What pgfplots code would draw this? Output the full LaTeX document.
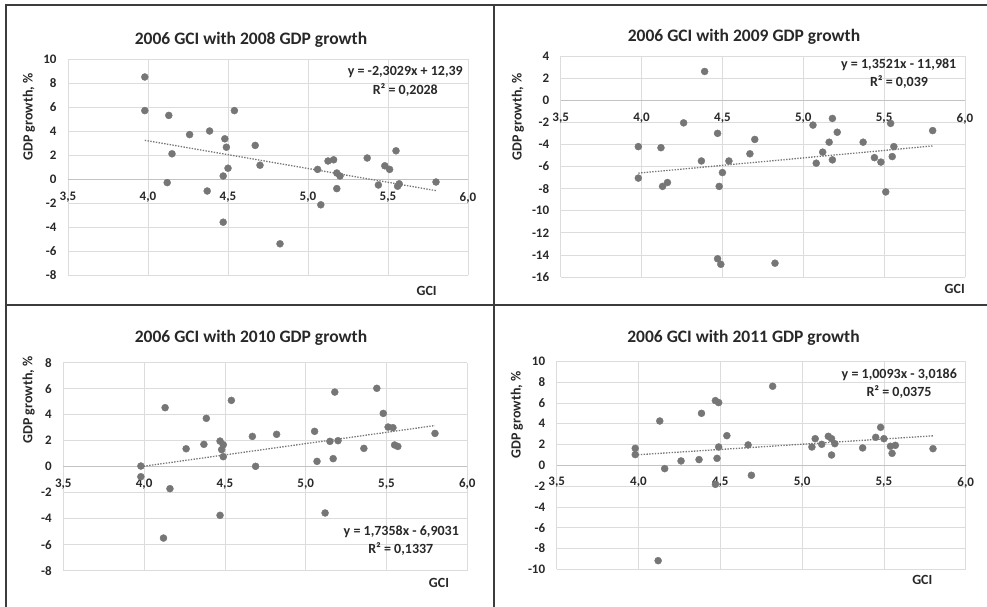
\documentclass[border=0pt]{standalone}
\usepackage{pgfplots}
\pgfplotsset{compat=1.18}
\usepackage{fontspec}
\setmainfont{Carlito}

\definecolor{mk}{RGB}{118,118,118}
\definecolor{gridc}{RGB}{220,220,220}
\definecolor{zeroc}{RGB}{195,195,195}
\definecolor{framec}{RGB}{60,60,60}
\definecolor{txt}{RGB}{40,40,40}

\pgfplotsset{
 gcistyle/.style={
  scale only axis,
  xmin=3.5, xmax=6.0,
  xtick={3.5,4,4.5,5,5.5,6},
  xticklabels={3{,}5,4{,}0,4{,}5,5{,}0,5{,}5,6{,}0},
  axis line style={draw=none},
  major tick length=0pt,
  grid=major,
  grid style={gridc, line width=0.8pt},
  tick label style={font=\fontsize{13}{15}\selectfont\bfseries, text=txt},
  yticklabel style={xshift=-8pt},
  extra y ticks={0},
  extra y tick labels={},
  extra y tick style={grid style={zeroc, line width=0.9pt}},
  clip=false,
 },
 pts/.style={only marks, mark=*, mark size=3.5pt, mark options={draw=mk, fill=mk}},
 trend/.style={mk, line width=1.3pt, dash pattern=on 1.4pt off 1.4pt},
}

\newcommand{\ttl}{\fontsize{17.5}{20}\selectfont\bfseries}
\newcommand{\lbl}{\fontsize{14}{16}\selectfont\bfseries}
\newcommand{\eqf}{\fontsize{14}{16}\selectfont\bfseries}

\begin{document}
\begin{tikzpicture}[x=1pt,y=1pt]
\path[use as bounding box] (0pt,0pt) rectangle (987pt,-607pt);

% ---------- Panel 1 : 2008 ----------
\begin{axis}[gcistyle, at={(68pt,-275pt)}, anchor=south west, width=400pt, height=216pt,
  ymin=-8, ymax=10, ytick={-8,-6,-4,-2,0,2,4,6,8,10},
  yticklabels={-8,-6,-4,-2,0,2,4,6,8,10},
  xticklabel style={yshift=86.3pt}]
\addplot[pts] table {
3.98 8.5
3.98 5.7
4.13 5.3
4.15 2.1
4.12 -0.3
4.26 3.7
4.385 4.0
4.37 -1.0
4.48 3.35
4.49 2.65
4.50 0.9
4.47 0.25
4.47 -3.6
4.54 5.7
4.67 2.8
4.70 1.15
4.825 -5.4
5.06 0.8
5.08 -2.15
5.125 1.5
5.16 1.6
5.18 0.5
5.20 0.25
5.18 -0.8
5.37 1.75
5.44 -0.5
5.48 1.1
5.51 0.8
5.55 2.35
5.56 -0.6
5.57 -0.4
5.80 -0.25
};
\addplot[trend] coordinates {(3.98,3.225) (5.80,-0.967)};
\end{axis}

% ---------- Panel 2 : 2009 ----------
\begin{axis}[gcistyle, at={(560.7pt,-277pt)}, anchor=south west, width=404.3pt, height=221pt,
  ymin=-16, ymax=4, ytick={-16,-14,-12,-10,-8,-6,-4,-2,0,2,4},
  yticklabels={-16,-14,-12,-10,-8,-6,-4,-2,0,2,4},
  xticklabel style={yshift=167.3pt}]
\addplot[pts] table {
4.39 2.6
4.26 -2.05
3.98 -4.2
4.12 -4.3
3.98 -7.05
4.13 -7.8
4.16 -7.45
4.37 -5.5
4.47 -3.0
4.50 -6.55
4.48 -7.8
4.54 -5.5
4.47 -14.35
4.49 -14.85
4.67 -4.85
4.70 -3.55
4.825 -14.75
5.06 -2.25
5.08 -5.7
5.12 -4.7
5.16 -3.8
5.18 -1.65
5.18 -5.4
5.21 -2.9
5.37 -3.8
5.44 -5.2
5.48 -5.6
5.51 -8.3
5.54 -2.1
5.55 -5.1
5.56 -4.2
5.80 -2.75
};
\addplot[trend] coordinates {(3.98,-6.600) (5.80,-4.139)};
\end{axis}

% ---------- Panel 3 : 2010 ----------
\begin{axis}[gcistyle, at={(63.3pt,-570.7pt)}, anchor=south west, width=404pt, height=208pt,
  ymin=-8, ymax=8, ytick={-8,-6,-4,-2,0,2,4,6,8},
  yticklabels={-8,-6,-4,-2,0,2,4,6,8},
  xticklabel style={yshift=95.3pt}]
\addplot[pts] table {
3.98 0.05
3.98 -0.77
4.13 4.54
4.16 -1.69
4.12 -5.49
4.26 1.38
4.37 1.72
4.385 3.72
4.47 1.97
4.49 1.69
4.48 1.31
4.49 0.77
4.47 -3.74
4.54 5.10
4.67 2.33
4.69 0.03
4.82 2.49
5.055 2.72
5.07 0.41
5.12 -3.56
5.15 1.95
5.18 5.74
5.17 0.62
5.20 2.0
5.36 1.41
5.44 6.03
5.48 4.10
5.51 3.05
5.54 3.0
5.55 1.67
5.57 1.56
5.80 2.56
};
\addplot[trend] coordinates {(3.98,0.005) (5.80,3.165)};
\end{axis}

% ---------- Panel 4 : 2011 ----------
\begin{axis}[gcistyle, at={(556.7pt,-569.3pt)}, anchor=south west, width=409pt, height=208pt,
  ymin=-10, ymax=10, ytick={-10,-8,-6,-4,-2,0,2,4,6,8,10},
  yticklabels={-10,-8,-6,-4,-2,0,2,4,6,8,10},
  xticklabel style={yshift=95.6pt}]
\addplot[pts] table {
3.98 1.63
3.98 1.03
4.13 4.26
4.16 -0.32
4.12 -9.17
4.26 0.42
4.37 0.55
4.385 5.0
4.47 6.22
4.49 6.03
4.49 1.76
4.48 0.67
4.47 -1.83
4.54 2.85
4.67 1.96
4.69 -0.96
4.82 7.6
5.06 1.76
5.08 2.56
5.12 2.02
5.16 2.79
5.18 2.56
5.18 0.99
5.20 2.08
5.37 1.67
5.45 2.69
5.48 3.65
5.50 2.56
5.54 1.83
5.55 1.15
5.57 1.92
5.80 1.6
};
\addplot[trend] coordinates {(3.98,0.999) (5.80,2.835)};
\end{axis}

% ---------- titles and labels ----------
\begin{scope}[every node/.style={text=txt, inner sep=0pt}]
\node[font=\ttl] at (251pt,-40pt) {2006 GCI with 2008 GDP growth};
\node[font=\ttl] at (744pt,-37pt) {2006 GCI with 2009 GDP growth};
\node[font=\ttl] at (251pt,-338pt) {2006 GCI with 2010 GDP growth};
\node[font=\ttl] at (743.5pt,-338pt) {2006 GCI with 2011 GDP growth};

\node[font=\lbl, rotate=90] at (29pt,-117pt) {GDP growth, \%};
\node[font=\lbl, rotate=90] at (518pt,-117pt) {GDP growth, \%};
\node[font=\lbl, rotate=90] at (28.7pt,-400pt) {GDP growth, \%};
\node[font=\lbl, rotate=90] at (516.8pt,-415pt) {GDP growth, \%};

\node[font=\lbl] at (426.7pt,-291pt) {GCI};
\node[font=\lbl] at (954.7pt,-289pt) {GCI};
\node[font=\lbl] at (439pt,-582.7pt) {GCI};
\node[font=\lbl] at (922.3pt,-580pt) {GCI};

\node[font=\eqf] at (405.3pt,-72pt) {y = -2,3029x + 12,39};
\node[font=\eqf] at (405.3pt,-90pt) {R² = 0,2028};
\node[font=\eqf] at (898.7pt,-64.3pt) {y = 1,3521x - 11,981};
\node[font=\eqf] at (899pt,-82pt) {R² = 0,039};
\node[font=\eqf] at (401.3pt,-531.5pt) {y = 1,7358x - 6,9031};
\node[font=\eqf] at (400.8pt,-548.7pt) {R² = 0,1337};
\node[font=\eqf] at (899.3pt,-374.8pt) {y = 1,0093x - 3,0186};
\node[font=\eqf] at (899pt,-392pt) {R² = 0,0375};
\end{scope}

% ---------- frame ----------
\draw[framec, line width=1.4pt] (6pt,-607pt) -- (6pt,-5pt) -- (987pt,-5pt);
\draw[framec, line width=1.4pt] (494pt,-5pt) -- (494pt,-607pt);
\draw[framec, line width=1.4pt] (6pt,-305pt) -- (987pt,-305pt);
\end{tikzpicture}
\end{document}
